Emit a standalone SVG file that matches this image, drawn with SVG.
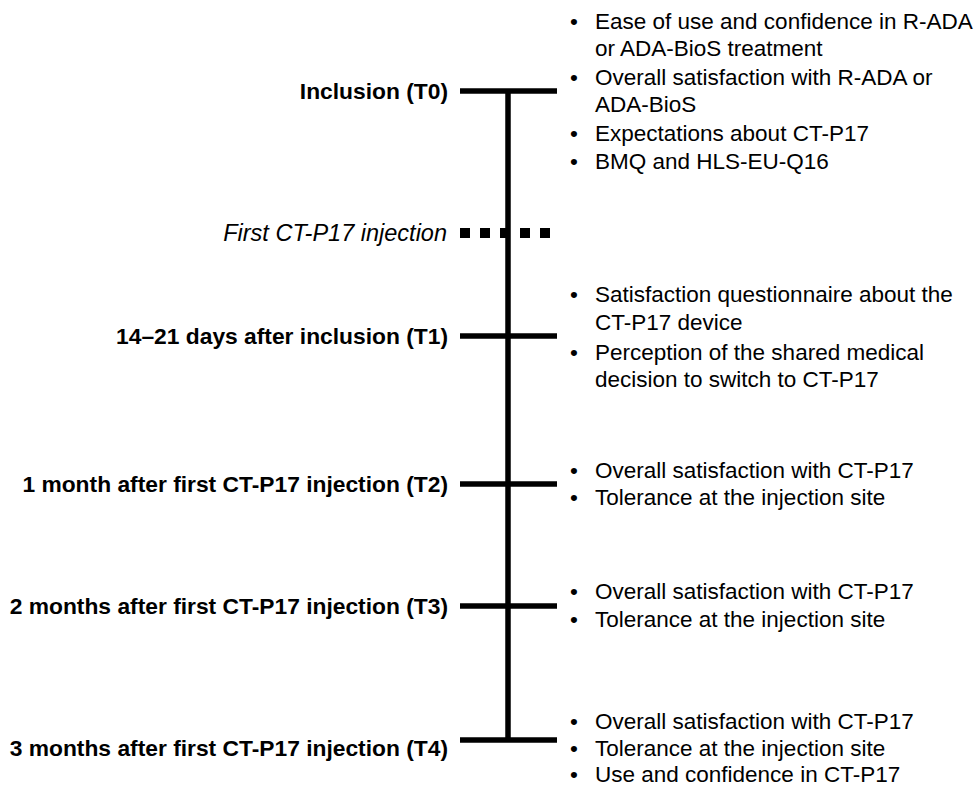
<svg xmlns="http://www.w3.org/2000/svg" width="976" height="788" viewBox="0 0 976 788">
<style>
text{font-family:"Liberation Sans",Arial,sans-serif;font-size:22.5px;fill:#000}
.lbl{font-weight:bold;text-anchor:end;font-size:22.8px}
.it{font-style:italic;text-anchor:end;font-size:23.5px}
.tick{stroke:#000;stroke-width:5.5;fill:none}
.axis{stroke:#000;stroke-width:5.5;fill:none}
.dots{stroke:#000;stroke-width:10;stroke-dasharray:10 10;fill:none}
</style>
<rect width="976" height="788" fill="#fff"/>
<g id="connectors">
<line class="axis" x1="508" y1="91" x2="508" y2="740"/>
</g>
<g id="t0">
<line class="tick" x1="460" y1="91" x2="557" y2="91"/>
<text class="lbl" x="448" y="99">Inclusion (T0)</text>
<text x="570" y="29">•</text><text x="595" y="29">Ease of use and confidence in R-ADA</text>
<text x="595" y="56">or ADA-BioS treatment</text>
<text x="570" y="85">•</text><text x="595" y="85">Overall satisfaction with R-ADA or</text>
<text x="595" y="112">ADA-BioS</text>
<text x="570" y="141">•</text><text x="595" y="141">Expectations about CT-P17</text>
<text x="570" y="169">•</text><text x="595" y="169">BMQ and HLS-EU-Q16</text>
</g>
<g id="injection">
<line class="dots" x1="460" y1="233" x2="550" y2="233"/>
<text class="it" x="447" y="241">First CT-P17 injection</text>
</g>
<g id="t1">
<line class="tick" x1="460" y1="336" x2="557" y2="336"/>
<text class="lbl" x="448" y="344">14–21 days after inclusion (T1)</text>
<text x="570" y="302">•</text><text x="595" y="302">Satisfaction questionnaire about the</text>
<text x="595" y="330">CT-P17 device</text>
<text x="570" y="360">•</text><text x="595" y="360">Perception of the shared medical</text>
<text x="595" y="387">decision to switch to CT-P17</text>
</g>
<g id="t2">
<line class="tick" x1="460" y1="484" x2="557" y2="484"/>
<text class="lbl" x="448" y="492">1 month after first CT-P17 injection (T2)</text>
<text x="570" y="478">•</text><text x="595" y="478">Overall satisfaction with CT-P17</text>
<text x="570" y="505">•</text><text x="595" y="505">Tolerance at the injection site</text>
</g>
<g id="t3">
<line class="tick" x1="460" y1="606" x2="557" y2="606"/>
<text class="lbl" x="448" y="614">2 months after first CT-P17 injection (T3)</text>
<text x="570" y="599">•</text><text x="595" y="599">Overall satisfaction with CT-P17</text>
<text x="570" y="627">•</text><text x="595" y="627">Tolerance at the injection site</text>
</g>
<g id="t4">
<line class="tick" x1="460" y1="740" x2="557" y2="740"/>
<text class="lbl" x="448" y="756">3 months after first CT-P17 injection (T4)</text>
<text x="570" y="729">•</text><text x="595" y="729">Overall satisfaction with CT-P17</text>
<text x="570" y="756">•</text><text x="595" y="756">Tolerance at the injection site</text>
<text x="570" y="782">•</text><text x="595" y="782">Use and confidence in CT-P17</text>
</g>
</svg>
